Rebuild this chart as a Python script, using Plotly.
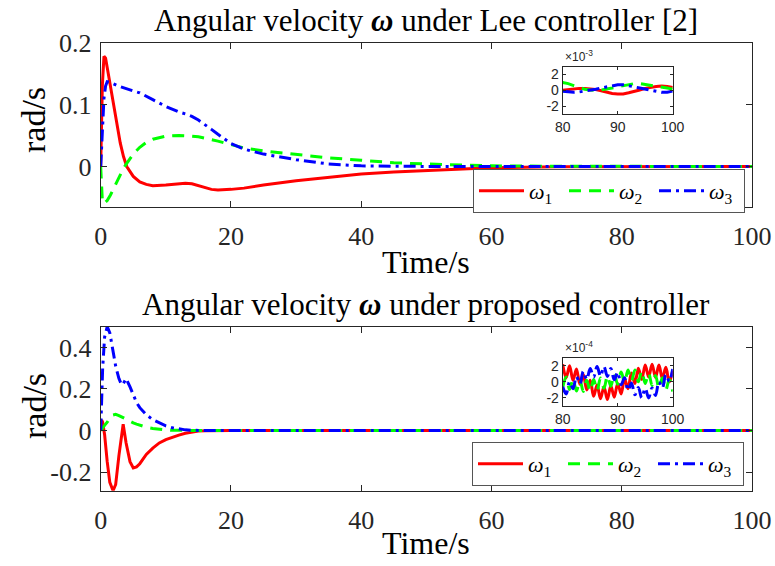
import plotly.graph_objects as go

# ---------------- data ----------------
# Lee controller, main panel (rad/s)
t_lee = [0, 0.25, 0.5, 0.75, 1, 1.5, 2, 2.5, 3, 3.5, 4, 5, 6, 7, 8, 10, 12, 13, 14, 15,
         16, 17, 18, 19, 20, 22, 25, 30, 35, 40, 45, 50, 55, 60, 70, 80, 90, 100]
w1_lee = [0, 0.13, 0.178, 0.175, 0.16, 0.13, 0.095, 0.065, 0.038, 0.016, 0.0, -0.016,
          -0.025, -0.029, -0.031, -0.030, -0.028, -0.027, -0.028, -0.031, -0.034, -0.037,
          -0.038, -0.038, -0.037, -0.035, -0.030, -0.023, -0.017, -0.012, -0.009, -0.007,
          -0.004, -0.002, -0.0005, 0, 0, 0]
w2_lee = [0, -0.055, -0.06, -0.058, -0.055, -0.046, -0.035, -0.024, -0.013, -0.003, 0.005,
          0.02, 0.031, 0.039, 0.044, 0.049, 0.05, 0.05, 0.049, 0.048, 0.046, 0.043, 0.041,
          0.038, 0.035, 0.03, 0.025, 0.019, 0.014, 0.01, 0.006, 0.004, 0.002, 0.001, 0.0003,
          0, 0, 0]
w3_lee = [0, 0.06, 0.11, 0.13, 0.137, 0.136, 0.133, 0.131, 0.129, 0.127, 0.125, 0.122,
          0.119, 0.114, 0.108, 0.097, 0.088, 0.085, 0.081, 0.075, 0.068, 0.060, 0.052,
          0.044, 0.037, 0.028, 0.020, 0.011, 0.004, 0.001, 0, 0, 0, 0, 0, 0, 0, 0]

# Lee controller, zoom 80-100 s (units of 1e-3 rad/s)
t_lee_zoom = [80, 81, 82, 83, 84, 85, 86, 87, 88, 89, 90, 91, 92, 93, 94, 95, 96, 97, 98, 99, 100]
w1_lee_zoom = [0.0, 0.1, 0.2, 0.25, 0.25, 0.2, 0.1, -0.05, -0.25, -0.4, -0.45, -0.45, -0.3,
               -0.15, 0.05, 0.25, 0.4, 0.5, 0.55, 0.5, 0.35]
w2_lee_zoom = [1.0, 0.85, 0.6, 0.35, 0.15, 0.05, 0.0, 0.05, 0.15, 0.3, 0.45, 0.6, 0.75, 0.85,
               0.85, 0.75, 0.6, 0.5, 0.45, 0.3, 0.15]
w3_lee_zoom = [-0.1, -0.2, -0.25, -0.2, -0.1, 0.0, 0.15, 0.3, 0.45, 0.6, 0.7, 0.7, 0.6, 0.45,
               0.3, 0.15, 0.0, -0.15, -0.25, -0.25, -0.1]

# Proposed controller, main panel (rad/s)
t_prop = [0, 0.15, 0.3, 0.6, 1.0, 1.4, 1.9, 2.3, 2.8, 3.2, 3.45, 3.9, 4.5, 5.0, 5.5, 6, 7, 8,
          9, 10, 11, 12, 13, 14, 15, 16, 20, 40, 60, 80, 100]
w1_prop = [0.0, 0.05, 0.04, -0.02, -0.15, -0.25, -0.29, -0.26, -0.12, -0.01, 0.03, -0.06,
           -0.15, -0.18, -0.175, -0.16, -0.115, -0.085, -0.06, -0.044, -0.032, -0.022,
           -0.013, -0.007, -0.003, -0.001, 0, 0, 0, 0, 0]
w2_prop = [0, 0.005, 0.01, 0.025, 0.04, 0.06, 0.075, 0.078, 0.072, 0.065, 0.06, 0.055,
           0.045, 0.037, 0.031, 0.026, 0.016, 0.01, 0.005, 0.003, 0.001, 0, 0, 0, 0, 0,
           0, 0, 0, 0, 0]
w3_prop = [0, 0.15, 0.3, 0.45, 0.5, 0.47, 0.38, 0.31, 0.25, 0.22, 0.225, 0.25, 0.21, 0.17,
           0.135, 0.11, 0.076, 0.052, 0.035, 0.022, 0.013, 0.007, 0.003, 0.001, 0, 0, 0,
           0, 0, 0, 0]

# Proposed controller, zoom 80-100 s (units of 1e-4 rad/s)
t_prop_zoom = [80.0, 80.625, 81.25, 81.875, 82.5, 83.125, 83.75, 84.375, 85.0, 85.625,
               86.25, 86.875, 87.5, 88.125, 88.75, 89.375, 90.0, 90.625, 91.25, 91.875,
               92.5, 93.125, 93.75, 94.375, 95.0, 95.625, 96.25, 96.875, 97.5, 98.125,
               98.75, 99.375, 100.0]
w1_prop_zoom = [2.2, 0.5, 2.0, 0.2, 1.6, -0.3, 0.9, -1.0, 0.2, -1.8, -0.4, -2.1, -0.6, -2.2,
                -0.5, -1.9, -0.2, -1.5, 0.4, -0.85, 1.1, -0.2, 1.7, 0.3, 2.1, 0.6, 2.2, 0.55,
                2.1, 0.4, 1.8, 0.0, 1.4]
w2_prop_zoom = [-0.7, 0.6, -0.95, 0.32, -1.13, 0.23, -1.2, 0.2, -1.15, 0.28, -1.08, 0.48,
                -0.8, 0.72, -0.55, 0.98, -0.3, 1.22, -0.05, 1.48, 0.1, 1.47, 0.02, 1.35,
                -0.2, 1.08, -0.45, 0.8, -0.75, 0.5, -1.0, 0.28, -1.2]
w3_prop_zoom = [-0.6, -1.5, 0.0, -0.85, 0.65, -0.25, 1.3, 0.3, 1.65, 0.6, 1.9, 0.7, 1.9, 0.68,
                1.65, 0.25, 1.2, -0.35, 0.5, -1.05, -0.15, -1.6, -0.7, -2.0, -0.8, -2.0,
                -0.75, -1.7, 0.0, -0.75, 0.9, 0.05, 1.6]

series_names = ["<i>ω</i><sub>1</sub>", "<i>ω</i><sub>2</sub>", "<i>ω</i><sub>3</sub>"]
colors = ["#FF0000", "#00FF00", "#0000FF"]
dashes = ["solid", "12px,8px", "12px,5px,3px,5px"]

# ---------------- layout helpers ----------------
W, H = 775, 566


def fx(p):
    return p / W


def fy(p):
    return 1 - p / H


SERIF = "Liberation Serif"
SANS = "Liberation Sans"
AX = "#262626"

fig = go.Figure()

panels = [
    (t_lee, [w1_lee, w2_lee, w3_lee], "x", "y", "legend"),
    (t_prop, [w1_prop, w2_prop, w3_prop], "x3", "y3", "legend2"),
]
for t, ys, xa, ya, lg in panels:
    for name, vals, c, d in zip(series_names, ys, colors, dashes):
        fig.add_trace(go.Scatter(x=t, y=vals, mode="lines", name=name, xaxis=xa, yaxis=ya,
                                 legend=lg, line=dict(color=c, width=3, dash=d)))

insets = [
    (t_lee_zoom, [w1_lee_zoom, w2_lee_zoom, w3_lee_zoom], "x2", "y2", "linear"),
    (t_prop_zoom, [w1_prop_zoom, w2_prop_zoom, w3_prop_zoom], "x4", "y4", "spline"),
]
for t, ys, xa, ya, shape in insets:
    for vals, c, d in zip(ys, colors, dashes):
        fig.add_trace(go.Scatter(x=t, y=vals, mode="lines", showlegend=False, xaxis=xa,
                                 yaxis=ya, line=dict(color=c, width=3, dash=d, shape=shape)))


def main_x(domain, anchor):
    return dict(domain=domain, anchor=anchor, range=[0, 100], tickvals=[0, 20, 40, 60, 80, 100],
                ticks="inside", ticklen=6, tickcolor=AX, showline=True, linecolor=AX,
                linewidth=1, mirror="ticks", showgrid=False, zeroline=False, automargin=False,
                ticklabelstandoff=6, tickfont=dict(family=SERIF, size=26, color=AX))


def main_y(domain, anchor, rng, vals):
    return dict(domain=domain, anchor=anchor, range=rng, tickvals=vals,
                ticktext=[("%g" % v) for v in vals],
                ticks="inside", ticklen=6, tickcolor=AX, showline=True, linecolor=AX,
                linewidth=1, mirror="ticks", showgrid=False, zeroline=False, automargin=False,
                ticklabelstandoff=3, tickfont=dict(family=SERIF, size=26, color=AX))


def inset_x(domain, anchor):
    return dict(domain=domain, anchor=anchor, range=[80, 100], tickvals=[80, 90, 100],
                ticks="inside", ticklen=3, tickcolor=AX, showline=True, linecolor=AX,
                linewidth=1, mirror="ticks", showgrid=False, zeroline=False, automargin=False,
                tickfont=dict(family=SANS, size=14, color=AX))


def inset_y(domain, anchor):
    return dict(domain=domain, anchor=anchor, range=[-3, 3], tickvals=[-2, 0, 2],
                ticktext=["-2", "0", "2"], ticks="inside", ticklen=3, tickcolor=AX,
                showline=True, linecolor=AX, linewidth=1, mirror="ticks", showgrid=False,
                zeroline=False, automargin=False,
                tickfont=dict(family=SANS, size=14, color=AX))


xdom = [fx(100.7), fx(752)]
idom = [fx(562.7), fx(672.7)]

legend_common = dict(orientation="h", xanchor="left", yanchor="top", bgcolor="white",
                     bordercolor="#555555", borderwidth=1, itemwidth=45,
                     entrywidth=30, entrywidthmode="pixels",
                     font=dict(family=SERIF, size=22, color="black"))

fig.update_layout(
    width=W, height=H, margin=dict(l=0, r=0, t=0, b=0, pad=0, autoexpand=False),
    plot_bgcolor="white", paper_bgcolor="white", showlegend=True,
    xaxis=main_x(xdom, "y"),
    yaxis=main_y([fy(206.7), fy(42.7)], "x", [-0.065, 0.2], [0, 0.1, 0.2]),
    xaxis2=inset_x(idom, "y2"),
    yaxis2=inset_y([fy(114), fy(66.7)], "x2"),
    xaxis3=main_x(xdom, "y3"),
    yaxis3=main_y([fy(490.7), fy(326.7)], "x3", [-0.29, 0.5], [-0.2, 0, 0.2, 0.4]),
    xaxis4=inset_x(idom, "y4"),
    yaxis4=inset_y([fy(406), fy(357.7)], "x4"),
    legend=dict(x=fx(473), y=fy(169), **legend_common),
    legend2=dict(x=fx(472), y=fy(442), **legend_common),
)

ann = []
title_font = dict(family=SERIF, size=31, color="black")
label_font = dict(family=SERIF, size=32, color="black")
ann.append(dict(text="Angular velocity <b><i>ω</i></b> under Lee controller [2]",
                x=fx(426), y=fy(20), font=title_font))
ann.append(dict(text="Angular velocity <b><i>ω</i></b> under proposed controller",
                x=fx(426), y=fy(304), font=title_font))
for yy in (262, 543):
    ann.append(dict(text="Time/s", x=fx(426), y=fy(yy), font=label_font))
for yy in (120, 406):
    ann.append(dict(text="rad/s", x=fx(34), y=fy(yy), textangle=-90,
                    font=dict(family=SERIF, size=34, color="black")))
for yy, exp in ((66, "-3"), (357, "-4")):
    ann.append(dict(text="×10<sup>%s</sup>" % exp, x=fx(563), y=fy(yy), xanchor="left",
                    yanchor="bottom", font=dict(family=SANS, size=12, color=AX)))
for a in ann:
    a.setdefault("xanchor", "center")
    a.setdefault("yanchor", "middle")
    a.update(xref="paper", yref="paper", showarrow=False)
fig.update_layout(annotations=ann)

fig.write_html("out.html")
